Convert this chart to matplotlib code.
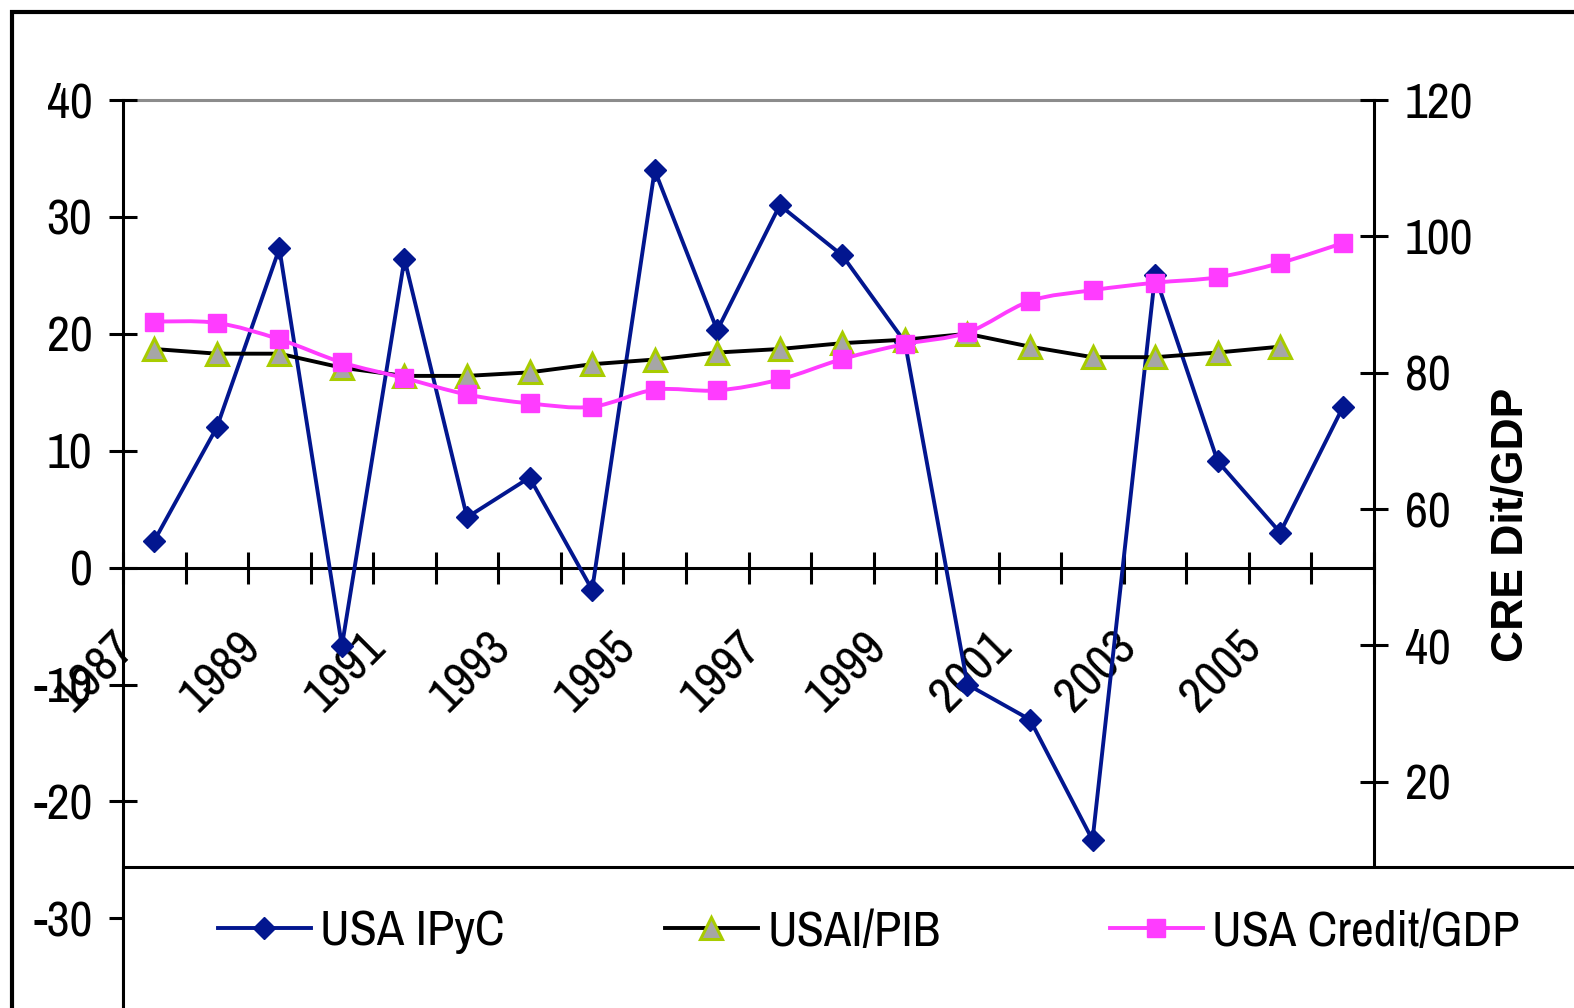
import matplotlib
matplotlib.use("Agg")
import matplotlib.pyplot as plt
import numpy as np
from matplotlib.lines import Line2D
from matplotlib.path import Path
from matplotlib.patches import PathPatch, Rectangle
from matplotlib.transforms import ScaledTranslation

plt.rcParams['font.family'] = ['Archivo Narrow', 'DejaVu Sans']
plt.rcParams['axes.unicode_minus'] = False

# dados
years = list(range(1987, 2007))
ipyc = [2.3, 12.0, 27.3, -6.7, 26.4, 4.3, 7.7, -1.9, 34.0, 20.3,
        31.0, 26.7, 19.3, -10.0, -13.0, -23.3, 25.0, 9.1, 3.0, 13.7]
inv_pib = [18.7, 18.3, 18.3, 17.1, 16.4, 16.4, 16.7, 17.4, 17.8, 18.4,
           18.7, 19.2, 19.5, 20.0, 18.9, 18.0, 18.0, 18.4, 18.9]
credit = [87.5, 87.3, 84.9, 81.5, 79.2, 76.8, 75.5, 75.0, 77.5, 77.4,
          79.0, 82.0, 84.2, 85.9, 90.5, 92.1, 93.2, 94.0, 96.1, 99.0]

W, H = 1574, 1008
fig = plt.figure(figsize=(W / 100, H / 100), dpi=100)

blue = '#02168f'
magenta = '#ff3cff'
fs = 36

ax = fig.add_axes([123 / W, 0, (1374 - 123) / W, 908 / H])
ax.set_xlim(0, 20)
ax.set_ylim(-37.67, 40)
ax.patch.set_alpha(0)

x = np.arange(len(years)) + 0.5

ax.plot(x, ipyc, color=blue, lw=2.8, marker='D', ms=11.5, zorder=3)
ax.plot(x[:len(inv_pib)], inv_pib, color='black', lw=2.8, marker='^', ms=15.5,
        markerfacecolor='#a6a6a6', markeredgecolor='#a8cc00', mew=2.2, zorder=4)

# linha cinza no topo (40)
ax.axhline(40, color='#8c8c8c', lw=2.2, clip_on=False, zorder=1)

for s in ['top', 'right']:
    ax.spines[s].set_visible(False)
ax.spines['bottom'].set_position(('data', 0))
ax.spines['bottom'].set_linewidth(2.2)
ax.spines['left'].set_linewidth(2.2)

ax.set_yticks(range(-30, 41, 10))
ax.tick_params(axis='y', direction='inout', length=20, width=2.2, labelsize=fs, pad=12)
ax.set_xticks(np.arange(0, 21))
xlabels = [str(years[i]) if (i % 2 == 0 and i < 20) else '' for i in range(21)]
ax.set_xticklabels(xlabels, rotation=45, ha='right', va='top')
ax.tick_params(axis='x', direction='inout', length=23, width=2.2, labelsize=fs, pad=29)
for lab in ax.get_xticklabels():
    lab.set_transform(lab.get_transform() + ScaledTranslation(0.21, 0, fig.dpi_scale_trans))

# eixo secundario
ax2 = ax.twinx()
ax2.set_ylim(120 - 908 / 6.817, 120)
for s in ['top', 'left', 'bottom']:
    ax2.spines[s].set_visible(False)
ax2.spines['right'].set_bounds(7.5, 120)
ax2.spines['right'].set_linewidth(2.2)
ax2.set_yticks(range(20, 121, 20))
ax2.tick_params(axis='y', direction='inout', length=20, width=2.2, labelsize=fs, pad=12)

# linha suavizada (como no Excel)
pts = np.column_stack([x, credit])
ext = np.vstack([pts[0], pts, pts[-1]])
verts = [tuple(pts[0])]
codes = [Path.MOVETO]
for i in range(1, len(pts)):
    p0, p1, p2, p3 = ext[i - 1], ext[i], ext[i + 1], ext[i + 2]
    c1 = p1 + (p2 - p0) / 6
    c2 = p2 - (p3 - p1) / 6
    verts += [tuple(c1), tuple(c2), tuple(p2)]
    codes += [Path.CURVE4] * 3
ax2.add_patch(PathPatch(Path(verts, codes), fill=False, edgecolor=magenta, lw=2.8, zorder=3))
ax2.plot(x, credit, ls='none', marker='s', ms=13.5, color=magenta, zorder=4)

fig.text(1512 / W, 1 - 525 / H, 'CRE Dit/GDP', rotation=90, ha='center', va='center',
         fontsize=32, fontweight='bold', family=['Liberation Sans', 'DejaVu Sans'])

# moldura externa e caixa da legenda
fig.add_artist(Rectangle((12 / W, -0.1), 1.2, 1.1 - 12 / H, transform=fig.transFigure,
                         fill=False, edgecolor='black', lw=3, zorder=5))
fig.add_artist(Rectangle((123 / W, -0.1), 1.2, 0.1 + (H - 867) / H, transform=fig.transFigure,
                         facecolor='white', edgecolor='black', lw=2.2, zorder=5))

handles = [
    Line2D([], [], color=blue, lw=2.8, marker='D', ms=11.5),
    Line2D([], [], color='black', lw=2.8, marker='^', ms=15.5, markerfacecolor='#a6a6a6',
           markeredgecolor='#a8cc00', mew=2.2),
    Line2D([], [], color=magenta, lw=2.8, marker='s', ms=13.5),
]
names = ['USA IPyC', 'USAI/PIB', 'USA Credit/GDP']
lx = [218, 665, 1110]
for h, n, px in zip(handles, names, lx):
    leg = fig.legend(handles=[h], labels=[n], loc='center left',
                     bbox_to_anchor=(px / W, 1 - 932 / H), frameon=False,
                     fontsize=fs, handlelength=1.85, handletextpad=0.2,
                     borderpad=0, borderaxespad=0)
    leg.set_zorder(6)

fig.savefig('out.png', dpi=100)
